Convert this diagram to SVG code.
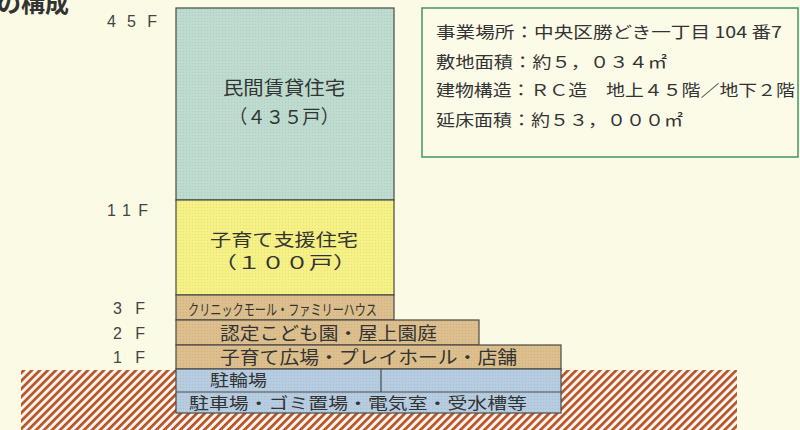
<svg xmlns="http://www.w3.org/2000/svg" width="800" height="430" viewBox="0 0 800 430">
  <defs>
    <pattern id="hatch" patternUnits="userSpaceOnUse" width="5.66" height="5.66" patternTransform="rotate(45)">
      <rect x="0" y="0" width="5.66" height="5.66" fill="#fbf6ea"/>
      <rect x="0" y="0" width="2.7" height="5.66" fill="#b5532c"/>
    </pattern>
    <pattern id="dots" patternUnits="userSpaceOnUse" width="3" height="3">
      <rect x="0" y="0" width="1" height="1" fill="#000" fill-opacity="0.07"/>
    </pattern>
    <style>
      .t { font-family: "Noto Sans CJK JP", "Noto Sans", sans-serif; fill: #333; }
      .fl { font-family: "Liberation Sans", "Noto Sans", sans-serif; font-size: 16px; fill: #444; }
      .blk { stroke: #4a4a4a; stroke-width: 1.2; }
      .tex { fill: url(#dots); stroke: none; }
    </style>
  </defs>
  <rect x="0" y="0" width="800" height="430" fill="#fbfae4"/>

  <text class="t" x="-3" y="12" font-size="24" font-weight="bold" fill="#222">の構成</text>

  <g id="ground">
    <rect x="21" y="370" width="716" height="60" fill="url(#hatch)"/>
  </g>

  <g id="floor-labels">
    <text class="fl" x="107" y="27" textLength="50" lengthAdjust="spacing">45F</text>
    <text class="fl" x="107" y="216" textLength="41" lengthAdjust="spacing">11F</text>
    <text class="fl" x="113" y="314" textLength="32" lengthAdjust="spacing">3F</text>
    <text class="fl" x="113" y="339" textLength="32" lengthAdjust="spacing">2F</text>
    <text class="fl" x="113" y="363" textLength="32" lengthAdjust="spacing">1F</text>
  </g>

  <g id="rental">
    <rect class="blk" x="176" y="8" width="218" height="192" fill="#bddccf"/>
    <rect class="tex" x="176" y="8" width="218" height="192"/>
    <text class="t" x="223" y="95" font-size="19" textLength="122" lengthAdjust="spacingAndGlyphs">民間賃貸住宅</text>
    <text class="t" x="229" y="124" font-size="19" textLength="110" lengthAdjust="spacingAndGlyphs">（４３５戸）</text>
  </g>

  <g id="childcare-housing">
    <rect class="blk" x="176" y="200" width="218" height="95" fill="#f6f184"/>
    <rect class="tex" x="176" y="200" width="218" height="95"/>
    <text class="t" x="210" y="246" font-size="17" textLength="148" lengthAdjust="spacingAndGlyphs">子育て支援住宅</text>
    <text class="t" x="213" y="269" font-size="17" textLength="144" lengthAdjust="spacingAndGlyphs">（１００戸）</text>
  </g>

  <g id="floor3">
    <rect class="blk" x="176" y="295" width="218" height="25" fill="#dcbf8c"/>
    <rect class="tex" x="176" y="295" width="218" height="25"/>
    <text class="t" x="188" y="315" font-size="15" textLength="189" lengthAdjust="spacingAndGlyphs">クリニックモール・ファミリーハウス</text>
  </g>

  <g id="floor2">
    <rect class="blk" x="176" y="320" width="303" height="25" fill="#dcbf8c"/>
    <rect class="tex" x="176" y="320" width="303" height="25"/>
    <text class="t" x="220" y="340" font-size="18" textLength="217" lengthAdjust="spacingAndGlyphs">認定こども園・屋上園庭</text>
  </g>

  <g id="floor1">
    <rect class="blk" x="176" y="345" width="385" height="24" fill="#dcbf8c"/>
    <rect class="tex" x="176" y="345" width="385" height="24"/>
    <text class="t" x="220" y="364" font-size="18" textLength="297" lengthAdjust="spacingAndGlyphs">子育て広場・プレイホール・店舗</text>
  </g>

  <g id="basement">
    <rect class="blk" x="176" y="369" width="385" height="44" fill="#b6cce0"/>
    <rect class="tex" x="176" y="369" width="385" height="44"/>
    <line class="blk" x1="176" y1="392" x2="561" y2="392"/>
    <line class="blk" x1="381" y1="369" x2="381" y2="392"/>
    <text class="t" x="210" y="386" font-size="16" textLength="57" lengthAdjust="spacingAndGlyphs">駐輪場</text>
    <text class="t" x="189" y="409" font-size="16" textLength="338" lengthAdjust="spacingAndGlyphs">駐車場・ゴミ置場・電気室・受水槽等</text>
  </g>

  <g id="info">
    <rect x="422" y="8" width="376" height="149" fill="#fcfbe8" stroke="#4f9a6c" stroke-width="1.6"/>
    <text class="t" x="436" y="38" font-size="16" textLength="346" lengthAdjust="spacingAndGlyphs">事業場所：中央区勝どき一丁目 104 番7</text>
    <text class="t" x="436" y="68" font-size="16" textLength="231" lengthAdjust="spacingAndGlyphs">敷地面積：約５，０３４㎡</text>
    <text class="t" x="436" y="96" font-size="16" textLength="359" lengthAdjust="spacingAndGlyphs">建物構造：ＲＣ造　地上４５階／地下２階</text>
    <text class="t" x="436" y="126" font-size="16" textLength="247" lengthAdjust="spacingAndGlyphs">延床面積：約５３，０００㎡</text>
  </g>
</svg>
